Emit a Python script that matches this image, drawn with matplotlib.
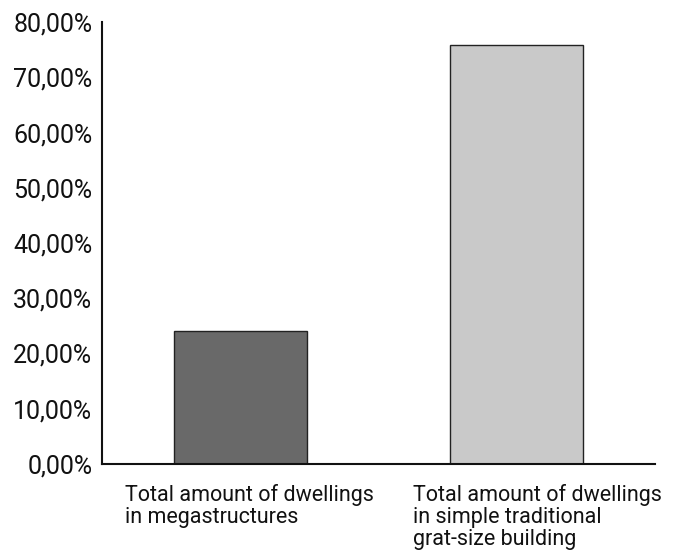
import matplotlib
matplotlib.use("Agg")
import matplotlib.pyplot as plt
from matplotlib.ticker import FuncFormatter

# date
categorii = [
    "Total amount of dwellings\nin megastructures",
    "Total amount of dwellings\nin simple traditional\ngrat-size building",
]
procente = [24.1, 75.9]
culori = ["#696969", "#c9c9c9"]
y_ticks = [0, 10, 20, 30, 40, 50, 60, 70, 80]

plt.rcParams["font.family"] = ["Roboto", "DejaVu Sans"]

fig = plt.figure(figsize=(6.77, 5.59), dpi=100)
ax = fig.add_axes([0.1507, 0.170, 0.8168, 0.7906])

x = list(range(len(categorii)))
ax.bar(x, procente, width=0.48, color=culori, edgecolor="#222222", linewidth=1)

ax.set_xlim(-0.5, 1.5)
ax.set_ylim(0, 80)
ax.set_yticks(y_ticks)
ax.yaxis.set_major_formatter(FuncFormatter(lambda v, p: f"{v:.2f}%".replace(".", ",")))
ax.tick_params(axis="y", length=0, pad=7, labelsize=18, colors="#111111")
ax.set_xticks([])

for s in ["top", "right"]:
    ax.spines[s].set_visible(False)
for s in ["left", "bottom"]:
    ax.spines[s].set_linewidth(1.5)
    ax.spines[s].set_color("#111111")

# etichete categorii, aliniate la stanga
offset = [-0.417, -0.377]
for i, text in enumerate(categorii):
    ax.text(i + offset[i], -0.045, text, transform=ax.get_xaxis_transform(),
            ha="left", va="top", fontsize=15.5, color="#111111", linespacing=1.08)

fig.savefig("out.png", dpi=100)
